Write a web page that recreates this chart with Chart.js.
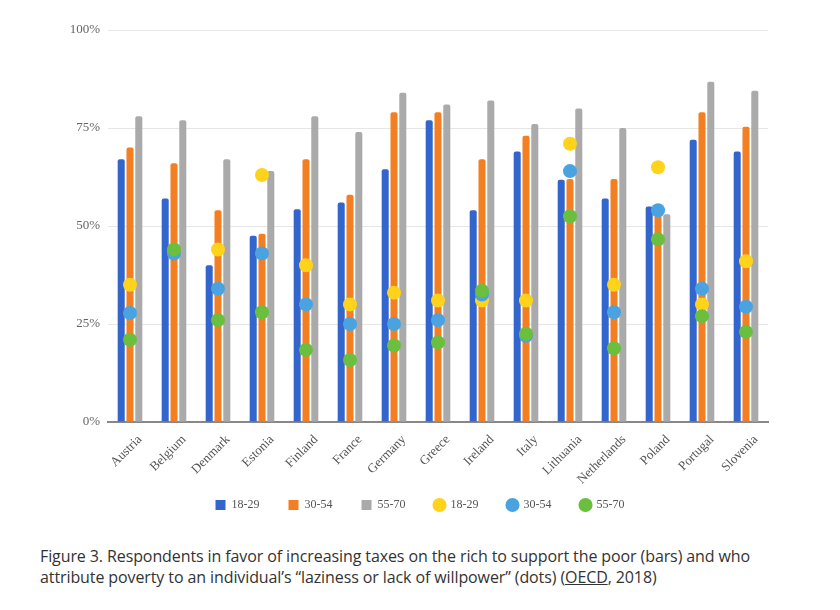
<!DOCTYPE html>
<html>
<head>
<meta charset="utf-8">
<script src="https://cdn.jsdelivr.net/npm/chart.js@4"></script>
<style>
  body { margin: 0; background: #fff; }
  #wrap { position: absolute; left: 0; top: 0; width: 840px; height: 535px; }
  #caption {
    position: absolute; left: 40px; top: 546px; width: 790px;
    font-family: "Open Sans", Roboto, sans-serif; font-size: 16px; line-height: 21px;
    letter-spacing: -0.1px; color: #333;
  }
  #caption a { color: #333; text-decoration: underline; }
</style>
</head>
<body>
<div id="wrap"><canvas id="taxChart"></canvas></div>
<div id="caption">Figure 3. Respondents in favor of increasing taxes on the rich to support the poor (bars) and who<br>attribute poverty to an individual’s “laziness or lack of willpower” (dots) (<a href="#">OECD</a>, 2018)</div>
<script>
// các quốc gia
const countries = ["Austria", "Belgium", "Denmark", "Estonia", "Finland", "France", "Germany", "Greece",
  "Ireland", "Italy", "Lithuania", "Netherlands", "Poland", "Portugal", "Slovenia"];

// cột: ủng hộ tăng thuế người giàu (%)
const taxYoung = [67, 57, 40, 47.5, 54.3, 56, 64.5, 77, 54, 69, 61.8, 57, 55, 72, 69];
const taxMid   = [70, 66, 54, 48, 67, 58, 79, 79, 67, 73, 62, 62, 54, 79, 75.3];
const taxOld   = [78, 77, 67, 64, 78, 74, 84, 81, 82, 76, 80, 75, 53, 86.8, 84.5];

// chấm: nghèo do "lười biếng" (%)
const lazyYoung = [35, 43.5, 44, 63, 40, 30, 33, 31, 31, 31, 71, 35, 65, 30, 41];
const lazyMid   = [27.8, 43, 34, 43, 30, 25, 25, 26, 32.5, 22, 64, 28, 54, 34, 29.4];
const lazyOld   = [21, 44, 26, 28, 18.4, 15.8, 19.5, 20.3, 33.5, 22.5, 52.5, 18.8, 46.6, 27, 23];

const yTicks = [0, 25, 50, 75, 100];

const serif = '"Liberation Serif", "Times New Roman", serif';

function barSet(label, data, color) {
  return {
    type: "bar", label: label, data: data, backgroundColor: color,
    borderRadius: { topLeft: 2, topRight: 2 }, borderSkipped: "bottom",
    barPercentage: 0.8, categoryPercentage: 0.6,
    pointStyle: "rect", order: 10,
  };
}

function dotSet(label, data, color, order) {
  return {
    type: "line", label: label, data: data, showLine: false,
    backgroundColor: color, borderColor: color, borderWidth: 0,
    pointRadius: 7, pointHoverRadius: 7, pointStyle: "circle", order: order,
  };
}

const data = {
  labels: countries,
  datasets: [
    barSet("18-29", taxYoung, "#3366CC"),
    barSet("30-54", taxMid, "#F47F22"),
    barSet("55-70", taxOld, "#AAAAAA"),
    dotSet("18-29", lazyYoung, "#FFD21C", 3),
    dotSet("30-54", lazyMid, "#4AA3E0", 2),
    dotSet("55-70", lazyOld, "#6ABF3E", 1),
  ],
};

const config = {
  data: data,
  options: {
    responsive: true,
    maintainAspectRatio: false,
    animation: false,
    layout: { padding: { left: 0, right: 0, top: 30, bottom: 14 } },
    plugins: {
      tooltip: { enabled: false },
      legend: {
        position: "bottom",
        labels: {
          sort: (a, b) => a.datasetIndex - b.datasetIndex,
          usePointStyle: true, boxWidth: 10, boxHeight: 10, padding: 29,
          color: "#555", font: { family: serif, size: 12 },
        },
      },
    },
    scales: {
      x: {
        grid: { display: false },
        border: { display: true, color: "#888", width: 2 },
        ticks: {
          minRotation: 45, maxRotation: 45, padding: 2, labelOffset: 10,
          color: "#555", font: { family: serif, size: 13 },
        },
        afterFit: (s) => {
          s.height = 48;
          s._computeLabelArea = () => null; // không cắt nhãn dài (Netherlands)
        },
      },
      y: {
        min: 0, max: 100,
        afterBuildTicks: (s) => { s.ticks = yTicks.map((v) => ({ value: v })); },
        grid: { color: "#E6E6E6", drawTicks: false },
        border: { display: false },
        ticks: {
          padding: 8, color: "#666", font: { family: serif, size: 13 },
          callback: (v) => v + "%",
        },
        afterFit: (s) => { s.width = 108; },
      },
      // trục phải trống, chỉ để chừa lề
      yRight: {
        position: "right", min: 0, max: 100,
        grid: { display: false }, border: { display: false },
        ticks: { display: false },
        afterFit: (s) => { s.width = 72; },
      },
    },
  },
};

document.fonts.load('12px "Liberation Serif"').then(() => {
  new Chart(document.getElementById("taxChart"), config);
});
</script>
</body>
</html>
